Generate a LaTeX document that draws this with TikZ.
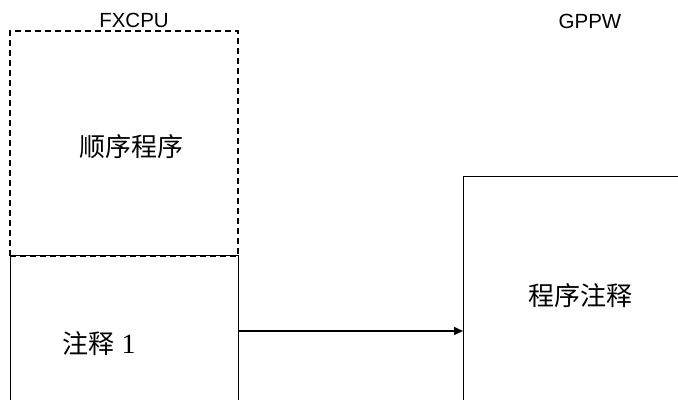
\documentclass[tikz,border=0pt]{standalone}
\usepackage{fontspec}
\setmainfont{Liberation Serif}
\newfontfamily\labelfont{Liberation Sans}
\newfontfamily\cjk{Noto Sans CJK SC}
\usetikzlibrary{arrows.meta}
\begin{document}
\begin{tikzpicture}[x=1pt,y=-1pt,
  title/.style={font=\labelfont\fontsize{20.5}{22}\selectfont, inner sep=0pt},
  cjktext/.style={font=\cjk\fontsize{26}{30}\selectfont, inner sep=0pt},
  boxline/.style={draw=black, line width=1pt},
  dashbox/.style={draw=black, line width=1.5pt, dash pattern=on 6pt off 4pt},
  arrowline/.style={draw=black, line width=1.5pt, -{Triangle[length=9pt,width=8pt]}}]
\useasboundingbox (0,0) rectangle (678,403);
% dashed box (sequence program)
\node[dashbox, minimum width=228pt, minimum height=225pt, inner sep=0pt] (seq) at (124,143.5) {};
% solid open boxes
\coordinate (lbl) at (10,400);
\coordinate (ltl) at (10,256);
\coordinate (ltr) at (238,256);
\coordinate (lbr) at (238,400);
\draw[boxline] (lbl) -- (ltl) -- (ltr) -- (lbr);
\coordinate (rbl) at (463,400);
\coordinate (rtl) at (463,177);
\coordinate (rtr) at (678,177);
\draw[boxline] (rbl) -- (rtl) -- (rtr);
% labels
\node[title] (fx) at (134,20) {FXCPU};
\node[title] (gp) at (590,21) {GPPW};
\node[cjktext] (t1) at (131,147) {\cjk 顺序程序};
\node[cjktext] (t2) at (580,296) {\cjk 程序注释};
\node[cjktext] (t3) at (99,344) {\cjk 注释\hspace{7pt}\fontspec{Liberation Serif}\fontsize{28}{30}\selectfont 1};
% arrow
\coordinate (as) at (238,331);
\coordinate (ae) at (463,331);
\draw[arrowline] (as) -- (ae);
\end{tikzpicture}
\end{document}
